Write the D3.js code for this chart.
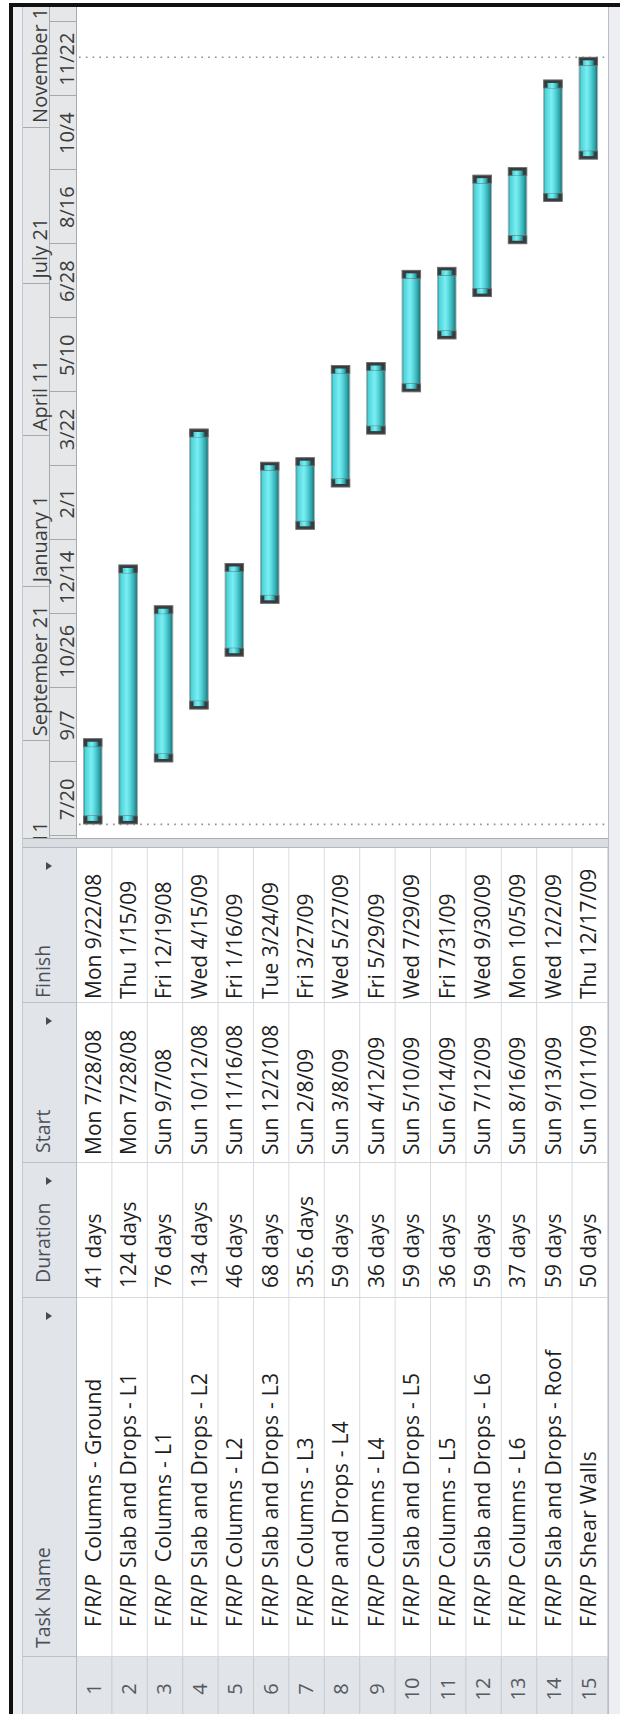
<!DOCTYPE html>
<html>
<head>
<meta charset="utf-8">
<script src="https://cdn.jsdelivr.net/npm/d3@7"></script>
<style>
  html, body { margin: 0; padding: 0; background: #fff; }
  svg { display: block; }
  text { font-family: "Open Sans", "Noto Sans", sans-serif; white-space: pre; }
</style>
</head>
<body>
<script>
// ---- schedule data ----
const taskNames = [
  "F/R/P  Columns - Ground",
  "F/R/P Slab and Drops - L1",
  "F/R/P  Columns - L1",
  "F/R/P Slab and Drops - L2",
  "F/R/P Columns - L2",
  "F/R/P Slab and Drops - L3",
  "F/R/P Columns - L3",
  "F/R/P and Drops - L4",
  "F/R/P Columns - L4",
  "F/R/P Slab and Drops - L5",
  "F/R/P Columns - L5",
  "F/R/P Slab and Drops - L6",
  "F/R/P Columns - L6",
  "F/R/P Slab and Drops - Roof",
  "F/R/P Shear Walls"
];
const durations = [
  "41 days", "124 days", "76 days", "134 days", "46 days", "68 days", "35.6 days",
  "59 days", "36 days", "59 days", "36 days", "59 days", "37 days", "59 days", "50 days"
];
const startDates = [
  "7/28/08", "7/28/08", "9/7/08", "10/12/08", "11/16/08", "12/21/08", "2/8/09",
  "3/8/09", "4/12/09", "5/10/09", "6/14/09", "7/12/09", "8/16/09", "9/13/09", "10/11/09"
];
const finishDates = [
  "9/22/08", "1/15/09", "12/19/08", "4/15/09", "1/16/09", "3/24/09", "3/27/09",
  "5/27/09", "5/29/09", "7/29/09", "7/31/09", "9/30/09", "10/5/09", "12/2/09", "12/17/09"
];
const columnHeaders = ["Task Name", "Duration", "Start", "Finish"];

// timescale tiers (upper: every 10 thirds of a month, left aligned;
// lower: every 7 weeks, centred in each period)
const upperTierDates = ["6/11/08", "9/21/08", "1/1/09", "4/11/09", "7/21/09", "11/1/09"];
const lowerTierDates = ["7/20/08", "9/7/08", "10/26/08", "12/14/08", "2/1/09", "3/22/09",
                        "5/10/09", "6/28/09", "8/16/09", "10/4/09", "11/22/09", "1/10/10"];
const viewRange = ["7/19/08", "1/22/10"];
const projectStart = "7/28/08";
const projectFinish = "12/17/09";

// ---- helpers ----
const parse = d3.timeParse("%m/%d/%y");
const fmtLong = d3.timeFormat("%a %-m/%-d/%y");
const fmtUpper = d3.timeFormat("%B %-d");
const fmtLower = d3.timeFormat("%-m/%-d");

// The view is laid out as a normal (landscape) Gantt view and turned a quarter turn.
const W = 1714, H = 620;
const svg = d3.select("body").append("svg").attr("width", H).attr("height", W);
const g = svg.append("g").attr("transform", `translate(0,${W}) rotate(-90)`);

const defs = svg.append("defs");
const grad = defs.append("linearGradient").attr("id", "barFill")
  .attr("x1", 0).attr("y1", 0).attr("x2", 0).attr("y2", 1);
[[0, "#1c8285"], [0.1, "#4fd3d9"], [0.42, "#7aeff3"], [0.6, "#5ad8de"], [0.85, "#2ea4a9"], [1, "#17696c"]]
  .forEach(([o, c]) => grad.append("stop").attr("offset", o).attr("stop-color", c));

// ---- layout ----
const headTop = 23, tierMid = 50, headBot = 77;
const rowH = 35.4;
const colEdges = { id: [-10, 57], task: [57, 416], dur: [416, 551], start: [551, 711], finish: [711, 866] };
const splitter = [866, 876];
const chartX = [876, 1710];

const y = d3.scaleBand().domain(d3.range(taskNames.length))
  .range([headBot, headBot + rowH * taskNames.length]);
const rowsBottom = headBot + rowH * taskNames.length;

const x = d3.scaleTime().domain(viewRange.map(parse)).range(chartX);

// background
g.append("rect").attr("x", 0).attr("y", 0).attr("width", W).attr("height", H).attr("fill", "#fff");

// strip above the headers
g.append("rect").attr("x", 0).attr("y", 13).attr("width", 1708).attr("height", headTop - 13).attr("fill", "#eceef1");
g.append("line").attr("x1", 0).attr("x2", 1708).attr("y1", headTop - 0.5).attr("y2", headTop - 0.5).attr("stroke", "#c3c8cf");

// ---- table ----
const colKeys = ["task", "dur", "start", "finish"];
g.append("rect").attr("x", -10).attr("y", headTop).attr("width", colEdges.finish[1] + 10).attr("height", headBot - headTop)
  .attr("fill", "#e1e4e9");
g.append("rect").attr("x", -10).attr("y", headBot).attr("width", colEdges.id[1] + 10).attr("height", rowsBottom - headBot)
  .attr("fill", "#e1e4e9");

// row grid lines
const gridG = g.append("g");
y.domain().forEach(i => {
  const yb = y(i) + rowH;
  gridG.append("line").attr("x1", -10).attr("x2", colEdges.id[1]).attr("y1", yb - 0.5).attr("y2", yb - 0.5).attr("stroke", "#c6cbd2");
  gridG.append("line").attr("x1", colEdges.id[1]).attr("x2", colEdges.finish[1]).attr("y1", yb - 0.5).attr("y2", yb - 0.5).attr("stroke", "#d9dbde");
});
// column separators
colKeys.forEach(k => {
  const xe = colEdges[k][0];
  gridG.append("line").attr("x1", xe + 0.5).attr("x2", xe + 0.5).attr("y1", headTop).attr("y2", headBot).attr("stroke", "#bcc1c8");
  gridG.append("line").attr("x1", xe + 0.5).attr("x2", xe + 0.5).attr("y1", headBot).attr("y2", rowsBottom).attr("stroke", "#d6d9dd");
});
gridG.append("line").attr("x1", -10).attr("x2", colEdges.finish[1]).attr("y1", headBot - 0.5).attr("y2", headBot - 0.5).attr("stroke", "#b5bac2");

// header labels and filter arrows
const headPad = { task: 9, dur: 15, start: 10, finish: 5 };
columnHeaders.forEach((h, i) => {
  const k = colKeys[i];
  g.append("text").attr("x", colEdges[k][0] + headPad[k]).attr("y", 50)
    .attr("font-size", 19.5).attr("fill", "#4b4f55").text(h);
  const ax = colEdges[k][1] - 18, ay = 46;
  g.append("path").attr("d", `M${ax - 4},${ay} L${ax + 4},${ay} L${ax},${ay + 6} Z`).attr("fill", "#4a4a4a");
});

// rows: id, name, duration, start, finish
const rowG = g.append("g").selectAll("g").data(y.domain()).join("g");
rowG.append("text").attr("x", 25).attr("y", i => y(i) + 23.5).attr("text-anchor", "middle")
  .attr("font-size", 20).attr("fill", "#555a60").text(i => i + 1);
rowG.append("text").attr("x", colEdges.task[0] + 30).attr("y", i => y(i) + 23.5)
  .attr("font-size", 21).attr("letter-spacing", 0.3).attr("fill", "#1e1e1e").text(i => taskNames[i]);
rowG.append("text").attr("x", colEdges.dur[0] + 10).attr("y", i => y(i) + 23.5)
  .attr("font-size", 21).attr("fill", "#1e1e1e").text(i => durations[i]);
rowG.append("text").attr("x", colEdges.start[0] + 8).attr("y", i => y(i) + 23.5)
  .attr("font-size", 21).attr("fill", "#1e1e1e").text(i => fmtLong(parse(startDates[i])));
rowG.append("text").attr("x", colEdges.finish[0] + 4).attr("y", i => y(i) + 23.5)
  .attr("font-size", 21).attr("fill", "#1e1e1e").text(i => fmtLong(parse(finishDates[i])));

// splitter between table and chart
g.append("rect").attr("x", splitter[0]).attr("y", headTop).attr("width", splitter[1] - splitter[0]).attr("height", H - headTop)
  .attr("fill", "#dadde2");
g.append("line").attr("x1", splitter[0] + 0.5).attr("x2", splitter[0] + 0.5).attr("y1", headTop).attr("y2", H).attr("stroke", "#b3b8bf");
g.append("line").attr("x1", splitter[1] - 0.5).attr("x2", splitter[1] - 0.5).attr("y1", headTop).attr("y2", H).attr("stroke", "#a9aeb5");

// ---- timescale ----
defs.append("clipPath").attr("id", "tsClip").append("rect")
  .attr("x", chartX[0]).attr("y", headTop).attr("width", chartX[1] - chartX[0]).attr("height", headBot - headTop);
const ts = g.append("g").attr("clip-path", "url(#tsClip)");
ts.append("rect").attr("x", chartX[0]).attr("y", headTop).attr("width", chartX[1] - chartX[0]).attr("height", headBot - headTop)
  .attr("fill", "#e6e7e9");
ts.append("line").attr("x1", chartX[0]).attr("x2", chartX[1]).attr("y1", tierMid - 0.5).attr("y2", tierMid - 0.5).attr("stroke", "#a6a9ad");

const upper = upperTierDates.map(parse);
const lower = lowerTierDates.map(parse);
ts.selectAll("line.up").data(upper).join("line").attr("class", "up")
  .attr("x1", d => Math.round(x(d)) + 0.5).attr("x2", d => Math.round(x(d)) + 0.5)
  .attr("y1", headTop).attr("y2", tierMid).attr("stroke", "#a6a9ad");
ts.selectAll("text.up").data(upper).join("text").attr("class", "up")
  .attr("x", d => x(d) + 5).attr("y", 46.5).attr("font-size", 20).attr("fill", "#3c3c3c").text(fmtUpper);
ts.selectAll("line.lo").data(lower).join("line").attr("class", "lo")
  .attr("x1", d => Math.round(x(d)) + 0.5).attr("x2", d => Math.round(x(d)) + 0.5)
  .attr("y1", tierMid).attr("y2", headBot).attr("stroke", "#a6a9ad");
ts.selectAll("text.lo").data(d3.pairs(lower)).join("text").attr("class", "lo")
  .attr("x", ([a, b]) => (x(a) + x(b)) / 2).attr("y", 73.5).attr("text-anchor", "middle")
  .attr("font-size", 20).attr("fill", "#3c3c3c").text(([a]) => fmtLower(a));

g.append("line").attr("x1", chartX[0]).attr("x2", chartX[1]).attr("y1", headBot - 0.5).attr("y2", headBot - 0.5).attr("stroke", "#a6a9ad");

// project start / finish markers
[parse(projectStart), d3.timeHour.offset(parse(projectFinish), 17)].forEach(d => {
  g.append("line").attr("x1", x(d)).attr("x2", x(d)).attr("y1", headBot + 2).attr("y2", H)
    .attr("stroke", "#8c8c8c").attr("stroke-width", 1.6).attr("stroke-dasharray", "1.6,5.2");
});

// ---- task bars ----
const barInset = 6.5, barW = 18.5, capL = 8;
const bars = g.append("g").selectAll("g").data(y.domain()).join("g");
bars.each(function(i) {
  const s = x(d3.timeHour.offset(parse(startDates[i]), 8));
  const f = x(d3.timeHour.offset(parse(finishDates[i]), 17));
  const top = y(i) + barInset;
  const sel = d3.select(this);
  sel.append("rect").attr("x", s).attr("y", top).attr("width", f - s).attr("height", barW)
    .attr("fill", "url(#barFill)").attr("stroke", "#a9b3b4").attr("stroke-width", 1);
  // start and finish brackets
  [[s, 1], [f, -1]].forEach(([edge, dir]) => {
    const cx0 = dir > 0 ? edge : edge - capL;
    sel.append("rect").attr("x", cx0).attr("y", top).attr("width", capL).attr("height", barW)
      .attr("fill", "#3a3b3c").attr("stroke", "#6d6f70").attr("stroke-width", 0.8);
    const nx = dir > 0 ? edge + 3 : edge - capL;
    sel.append("rect").attr("x", nx).attr("y", top + 3.5).attr("width", capL - 3).attr("height", barW - 7)
      .attr("fill", "url(#barFill)");
  });
});

// ---- window frame ----
g.append("rect").attr("x", 0).attr("y", 9).attr("width", 1711).attr("height", 4).attr("fill", "#111");
g.append("rect").attr("x", 1707).attr("y", 9).attr("width", 4).attr("height", H - 9).attr("fill", "#111");
g.append("rect").attr("x", 0).attr("y", rowsBottom).attr("width", 1707).attr("height", H - rowsBottom).attr("fill", "#eceef1");
g.append("line").attr("x1", 0).attr("x2", 1707).attr("y1", rowsBottom + 0.5).attr("y2", rowsBottom + 0.5).attr("stroke", "#b8bdc4");
</script>
</body>
</html>
